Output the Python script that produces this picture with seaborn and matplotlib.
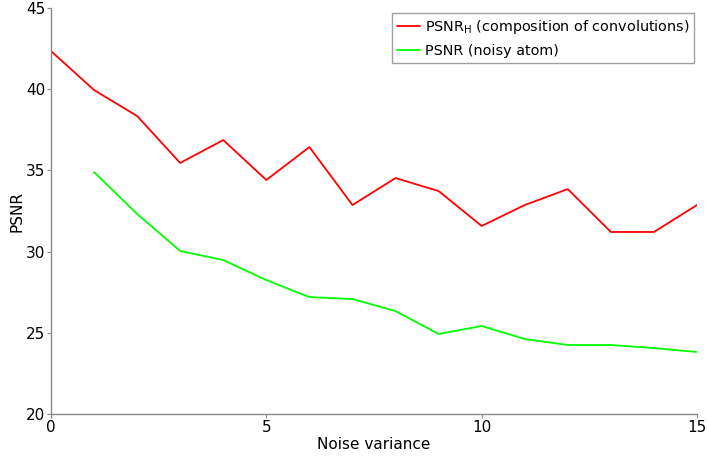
import numpy as np
import pandas as pd
import seaborn as sns
import matplotlib
matplotlib.use("Agg")
import matplotlib.pyplot as plt
# --------------------------------------------------------------------------------------------------
# Values
noise_h = [0, 1, 2, 3, 4, 5, 6, 7, 8, 9, 10, 11, 12, 13, 14, 15]
psnr_h = [42.35, 39.95, 38.35, 35.46, 36.87, 34.41, 36.44, 32.87, 34.53, 33.73,
          31.58, 32.87, 33.85, 31.21, 31.21, 32.87]
noise_atom = [1, 2, 3, 4, 5, 6, 7, 8, 9, 10, 11, 12, 13, 14, 15]
psnr_atom = [34.9, 32.32, 30.04, 29.48, 28.25, 27.2, 27.08, 26.34, 24.93, 25.42,
             24.62, 24.25, 24.25, 24.06, 23.82]
label_h = r"PSNR$_\mathrm{H}$ (composition of convolutions)"
label_atom = "PSNR (noisy atom)"
x_ticks = [0, 5, 10, 15]
y_ticks = [20, 25, 30, 35, 40, 45]
# --------------------------------------------------------------------------------------------------
sns.set_style("white")
plt.rcParams["font.family"] = ["DejaVu Sans"]
plt.rcParams["mathtext.default"] = "regular"
plt.rcParams["text.color"] = "black"
plt.rcParams["axes.labelcolor"] = "black"
plt.rcParams["xtick.color"] = "black"
plt.rcParams["ytick.color"] = "black"

fig = plt.figure(figsize=(7.08, 4.58), dpi=100)
ax = fig.add_axes([0.072, 0.096, 0.9125, 0.8865])

df_h = pd.DataFrame({"noise": noise_h, "psnr": psnr_h})
df_a = pd.DataFrame({"noise": noise_atom, "psnr": psnr_atom})
sns.lineplot(data=df_h, x="noise", y="psnr", color="#ff0000", linewidth=1.3, label=label_h, ax=ax)
sns.lineplot(data=df_a, x="noise", y="psnr", color="#00ff00", linewidth=1.3, label=label_atom, ax=ax)

ax.set_xlim(0, 15)
ax.set_ylim(20, 45)
ax.set_xticks(x_ticks)
ax.set_yticks(y_ticks)
ax.set_xlabel("Noise variance", fontsize=11, labelpad=2)
ax.set_ylabel("PSNR", fontsize=11, labelpad=1)

for side in ["top", "right"]:
    ax.spines[side].set_visible(False)
for side in ["left", "bottom"]:
    ax.spines[side].set_color("#888888")
    ax.spines[side].set_linewidth(1.0)
ax.tick_params(axis="both", direction="out", length=3, width=0.8, color="#888888",
               labelcolor="black", labelsize=11, pad=1, left=True, bottom=True)

leg = ax.legend(loc="upper right", fontsize=10.4, frameon=True, fancybox=False,
                borderpad=0.35, handlelength=1.6, handletextpad=0.35, labelspacing=0.55,
                borderaxespad=0.0, bbox_to_anchor=(0.996, 0.988))
leg.get_frame().set_edgecolor("#888888")
leg.get_frame().set_linewidth(1.0)

fig.savefig("out.png", dpi=100)
